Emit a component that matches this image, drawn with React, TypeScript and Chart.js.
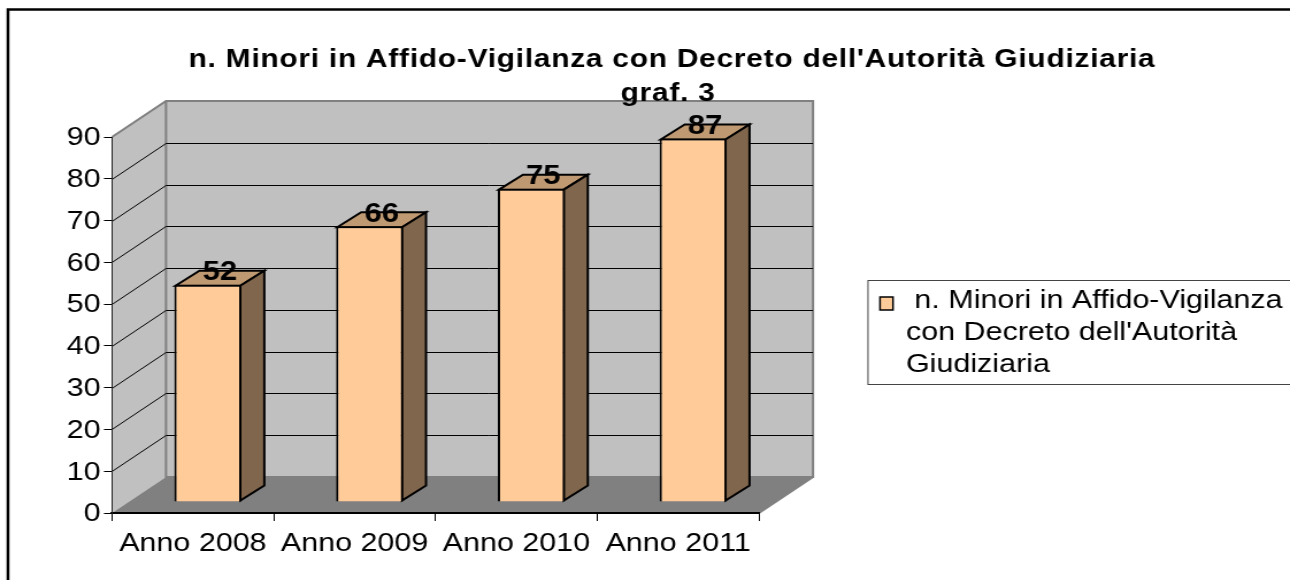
import React, { useEffect, useRef } from "react";
import { Chart, registerables } from "chart.js";

Chart.register(...registerables);

const titleLines = ["n. Minori in Affido-Vigilanza con Decreto dell'Autorità Giudiziaria", "graf. 3"];
const categories = ["Anno 2008", "Anno 2009", "Anno 2010", "Anno 2011"];
const seriesName = "n. Minori in Affido-Vigilanza con Decreto dell'Autorità Giudiziaria";
const legendLines = [" n. Minori in Affido-Vigilanza", "con Decreto dell'Autorità", "Giudiziaria"];
const values = [52, 66, 75, 87];

// The reference is horizontally stretched: the chart is laid out narrower and widened as a whole.
const CANVAS_W = 1122;
const CANVAS_H = 580;
const K = 1290 / CANVAS_W;
const px = (v: number) => v / K;
const FONT = "'Liberation Sans', Arial, sans-serif";

const DEPTH_X = px(54);
const DEPTH_Y = 36;
const BAR_SHIFT_X = px(15);
const BAR_SHIFT_Y = 11;
const BAR_DX = px(24);
const BAR_DY = 15;

const threeD = {
  id: "threeD",
  beforeDraw(chart: any) {
    const { ctx, chartArea: a, scales } = chart;
    const y = scales.y;
    ctx.save();
    ctx.fillStyle = "#fff";
    ctx.fillRect(0, 0, CANVAS_W, CANVAS_H);
    // outer frame
    ctx.strokeStyle = "#000";
    ctx.lineWidth = 2.5;
    ctx.beginPath();
    ctx.moveTo(px(8), CANVAS_H + 5);
    ctx.lineTo(px(8), 9.5);
    ctx.lineTo(CANVAS_W + 5, 9.5);
    ctx.stroke();
    // side wall
    ctx.fillStyle = "#C0C0C0";
    ctx.beginPath();
    ctx.moveTo(a.left, a.bottom);
    ctx.lineTo(a.left, a.top);
    ctx.lineTo(a.left + DEPTH_X, a.top - DEPTH_Y);
    ctx.lineTo(a.left + DEPTH_X, a.bottom - DEPTH_Y);
    ctx.closePath();
    ctx.fill();
    // back wall
    ctx.fillRect(a.left + DEPTH_X, a.top - DEPTH_Y, a.right - a.left, a.bottom - a.top);
    // floor
    ctx.fillStyle = "#808080";
    ctx.beginPath();
    ctx.moveTo(a.left, a.bottom);
    ctx.lineTo(a.right, a.bottom);
    ctx.lineTo(a.right + DEPTH_X, a.bottom - DEPTH_Y);
    ctx.lineTo(a.left + DEPTH_X, a.bottom - DEPTH_Y);
    ctx.closePath();
    ctx.fill();
    // wall outlines
    ctx.strokeStyle = "#808080";
    ctx.lineWidth = 2;
    ctx.beginPath();
    ctx.moveTo(a.left, a.top);
    ctx.lineTo(a.left + DEPTH_X, a.top - DEPTH_Y);
    ctx.lineTo(a.right + DEPTH_X, a.top - DEPTH_Y);
    ctx.lineTo(a.right + DEPTH_X, a.bottom - DEPTH_Y);
    ctx.lineTo(a.left + DEPTH_X, a.bottom - DEPTH_Y);
    ctx.lineTo(a.left + DEPTH_X, a.top - DEPTH_Y);
    ctx.moveTo(a.right + DEPTH_X, a.bottom - DEPTH_Y);
    ctx.lineTo(a.right, a.bottom);
    ctx.stroke();
    // gridlines running around the walls
    ctx.strokeStyle = "#000";
    ctx.lineWidth = 1;
    ctx.beginPath();
    y.ticks.forEach((t: any) => {
      if (t.value === 0 || t.value === y.max) return;
      const py = Math.round(y.getPixelForValue(t.value)) + 0.5;
      ctx.moveTo(a.left, py);
      ctx.lineTo(a.left + DEPTH_X, py - DEPTH_Y);
      ctx.lineTo(a.right + DEPTH_X, py - DEPTH_Y);
    });
    ctx.stroke();
    ctx.restore();
  },
  beforeDatasetsDraw(chart: any) {
    const { ctx } = chart;
    ctx.save();
    ctx.translate(BAR_SHIFT_X, -BAR_SHIFT_Y);
    const meta = chart.getDatasetMeta(0);
    ctx.lineWidth = 2;
    ctx.strokeStyle = "#000";
    ctx.lineJoin = "miter";
    meta.data.forEach((el: any) => {
      const l = el.x - el.width / 2;
      const r = el.x + el.width / 2;
      const t = el.y + 1;
      const b = el.base - 1;
      // top face
      ctx.fillStyle = "#BF9972";
      ctx.beginPath();
      ctx.moveTo(l + 1, t);
      ctx.lineTo(l + 1 + BAR_DX, t - BAR_DY);
      ctx.lineTo(r - 1 + BAR_DX, t - BAR_DY);
      ctx.lineTo(r - 1, t);
      ctx.closePath();
      ctx.fill();
      ctx.stroke();
      // side face
      ctx.fillStyle = "#80664D";
      ctx.beginPath();
      ctx.moveTo(r - 1, t);
      ctx.lineTo(r - 1 + BAR_DX, t - BAR_DY);
      ctx.lineTo(r - 1 + BAR_DX, b - BAR_DY);
      ctx.lineTo(r - 1, b);
      ctx.closePath();
      ctx.fill();
      ctx.stroke();
    });
  },
  afterDatasetsDraw(chart: any) {
    const { ctx } = chart;
    const meta = chart.getDatasetMeta(0);
    // value labels sit on the top face of each bar
    ctx.fillStyle = "#000";
    ctx.font = `bold 27px ${FONT}`;
    ctx.textAlign = "center";
    ctx.textBaseline = "middle";
    meta.data.forEach((el: any, i: number) => {
      ctx.fillText(String(values[i]), el.x + BAR_DX / 2, el.y - BAR_DY + 3);
    });
    ctx.restore();

    // title
    ctx.save();
    ctx.fillStyle = "#000";
    ctx.font = `bold 26px ${FONT}`;
    (ctx as any).letterSpacing = "0.65px";
    ctx.textAlign = "center";
    ctx.textBaseline = "alphabetic";
    ctx.fillText(titleLines[0], px(672), 67);
    ctx.fillText(titleLines[1], px(668), 101);
    (ctx as any).letterSpacing = "0px";

    // legend
    ctx.strokeStyle = "#444";
    ctx.lineWidth = 1;
    ctx.strokeRect(px(868), 280.5, CANVAS_W, 104);
    ctx.fillStyle = "#FFCC99";
    ctx.strokeStyle = "#000";
    ctx.lineWidth = 1.5;
    ctx.fillRect(px(880), 297, px(13), 13);
    ctx.strokeRect(px(880), 297, px(13), 13);
    ctx.fillStyle = "#000";
    ctx.font = `26.5px ${FONT}`;
    ctx.textAlign = "left";
    ctx.fillText(legendLines[0], px(906), 308);
    ctx.fillText(legendLines[1], px(906), 340);
    ctx.fillText(legendLines[2], px(906), 372);
    ctx.restore();
  },
};

export default function App() {
  const ref = useRef<HTMLCanvasElement>(null);
  useEffect(() => {
    const chart = new Chart(ref.current!, {
      type: "bar",
      data: {
        labels: categories,
        datasets: [
          {
            label: seriesName,
            data: values,
            backgroundColor: "#FFCC99",
            borderColor: "#000",
            borderWidth: 2,
            categoryPercentage: 1,
            barPercentage: 0.415,
            clip: false,
          } as any,
        ],
      },
      options: {
        responsive: false,
        animation: false,
        devicePixelRatio: 1,
        layout: { padding: { top: 137, left: 0, right: CANVAS_W - px(759), bottom: 0 } },
        plugins: { legend: { display: false }, title: { display: false }, tooltip: { enabled: false } },
        scales: {
          x: {
            grid: { drawOnChartArea: false, drawTicks: true, tickLength: 8, color: "#000" },
            border: { display: true, color: "#000", width: 2 },
            ticks: { color: "#000", font: { family: FONT, size: 26.5 }, padding: 7, maxRotation: 0, autoSkip: false },
            afterFit: (s: any) => {
              s.height = 67;
            },
          },
          y: {
            min: 0,
            max: 90,
            grid: { drawOnChartArea: false, drawTicks: true, tickLength: 7, color: "#000" },
            border: { display: true, color: "#222", width: 1 },
            ticks: { stepSize: 10, color: "#000", font: { family: FONT, size: 26.5 }, padding: 3, labelOffset: 1 },
            afterFit: (s: any) => {
              s.width = px(112);
            },
          },
        },
      },
      plugins: [threeD],
    } as any);
    return () => chart.destroy();
  }, []);
  return (
    <div style={{ position: "fixed", left: 0, top: 0, width: CANVAS_W, height: CANVAS_H, transformOrigin: "0 0", transform: `scaleX(${K})` }}>
      <canvas ref={ref} width={CANVAS_W} height={CANVAS_H} style={{ display: "block" }} />
    </div>
  );
}
